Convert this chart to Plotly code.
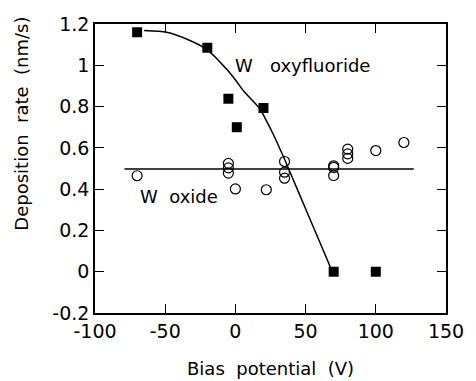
import plotly.graph_objects as go

# Filled squares: W oxyfluoride
oxyf_x = [-70, -20, -5, 1, 20, 70, 100]
oxyf_y = [1.16, 1.085, 0.838, 0.70, 0.793, 0.0, 0.0]

# Open circles: W oxide
oxide_x = [-70, -5, -5, -5, 0, 22, 35, 35, 35, 70, 70, 70, 80, 80, 80, 100, 120]
oxide_y = [0.465, 0.525, 0.503, 0.478, 0.401, 0.397, 0.534, 0.482, 0.453,
           0.513, 0.505, 0.466, 0.594, 0.571, 0.549, 0.587, 0.626]

# Fitted curve through oxyfluoride points
fit_x = [-65, -49, -34, -20, -6, 1, 6, 17, 26.5, 35, 40, 50, 60, 69]
fit_y = [1.168, 1.160, 1.125, 1.075, 0.979, 0.92, 0.874, 0.793, 0.672, 0.545, 0.465, 0.305, 0.145, 0.0]

# Oxide mean line
mean_x = [-79, 127]
mean_y = [0.497, 0.497]

x_ticks = [-100, -50, 0, 50, 100, 150]
x_labels = ["-100", "-50", "0", "50", "100", "150"]
y_ticks = [-0.2, 0, 0.2, 0.4, 0.6, 0.8, 1.0, 1.2]
y_labels = ["-0.2", "0", "0.2", "0.4", "0.6", "0.8", "1", "1.2"]

FONT = "DejaVu Sans"

fig = go.Figure()
fig.add_trace(go.Scatter(x=fit_x, y=fit_y, mode="lines",
                         line=dict(color="black", width=1.5, shape="spline", smoothing=0.6),
                         showlegend=False))
fig.add_trace(go.Scatter(x=mean_x, y=mean_y, mode="lines",
                         line=dict(color="black", width=1.5), showlegend=False))
fig.add_trace(go.Scatter(x=oxide_x, y=oxide_y, mode="markers",
                         marker=dict(symbol="circle-open", size=10, color="black",
                                     line=dict(width=1.2, color="black")),
                         showlegend=False))
fig.add_trace(go.Scatter(x=oxyf_x, y=oxyf_y, mode="markers",
                         marker=dict(symbol="square", size=10, color="black"),
                         showlegend=False))

axis_common = dict(showgrid=False, zeroline=False, showline=True, linecolor="black",
                   linewidth=1.5, mirror="ticks", ticks="inside", ticklen=9,
                   tickwidth=1, tickcolor="black",
                   tickfont=dict(family=FONT, size=19, color="black"))

fig.update_xaxes(range=[-100, 150], tickvals=x_ticks, ticktext=x_labels, **axis_common)
fig.update_yaxes(range=[-0.2, 1.2], tickvals=y_ticks, ticktext=y_labels, **axis_common)

fig.add_annotation(text="Bias\u00a0 potential\u00a0 (V)", xref="paper", yref="paper",
                   x=0.5, y=-0.192, xanchor="center", yanchor="middle",
                   showarrow=False, font=dict(family=FONT, size=18, color="black"))
fig.add_annotation(text="Deposition\u00a0 rate\u00a0 (nm/s)", xref="paper", yref="paper",
                   x=-0.209, y=0.654, xanchor="center", yanchor="middle", textangle=-90,
                   showarrow=False, font=dict(family=FONT, size=18, color="black"))
fig.add_annotation(text="W\u00a0\u00a0 oxyfluoride", x=48, y=1.0, xref="x", yref="y",
                   showarrow=False, font=dict(family=FONT, size=18, color="black"))
fig.add_annotation(text="W\u00a0 oxide", x=-40.5, y=0.362, xref="x", yref="y",
                   showarrow=False, font=dict(family=FONT, size=18, color="black"))

fig.update_layout(width=476, height=381, margin=dict(l=95, r=22, t=24, b=68),
                  paper_bgcolor="white", plot_bgcolor="white")

fig.write_html("out.html")
